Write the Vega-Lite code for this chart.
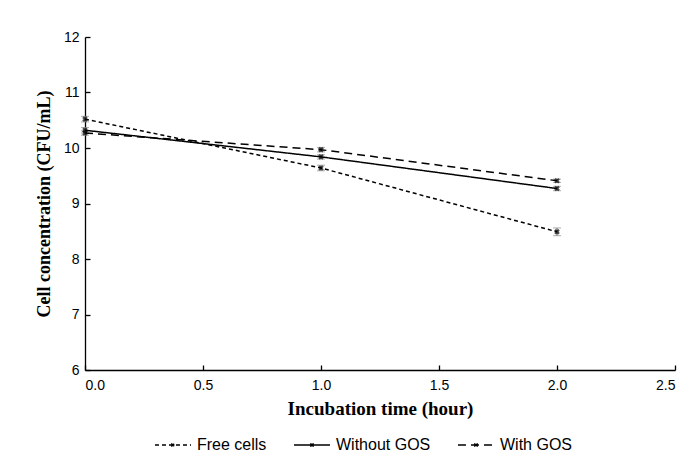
{
  "$schema": "https://vega.github.io/schema/vega-lite/v6.json",
  "width": 590,
  "height": 333,
  "padding": {"left": 35, "top": 30, "right": 5, "bottom": 5},
  "background": "white",
  "config": {
    "view": {"stroke": null},
    "axis": {
      "domainColor": "black",
      "tickColor": "black",
      "labelColor": "black",
      "titleColor": "black",
      "labelFont": "Liberation Sans",
      "labelFontSize": 14,
      "titleFont": "Liberation Serif",
      "titleFontSize": 18,
      "titleFontWeight": "bold",
      "grid": false,
      "domainWidth": 1.3,
      "tickWidth": 1.3
    },
    "legend": {
      "labelFont": "Liberation Sans",
      "labelFontSize": 16,
      "labelColor": "black"
    }
  },
  "data": {
    "values": [
      {"series": "Free cells", "time": 0, "value": 10.52, "err": 0.05},
      {"series": "Free cells", "time": 1, "value": 9.64, "err": 0.05},
      {"series": "Free cells", "time": 2, "value": 8.49, "err": 0.07},
      {"series": "Without GOS", "time": 0, "value": 10.32, "err": 0.05},
      {"series": "Without GOS", "time": 1, "value": 9.84, "err": 0.04},
      {"series": "Without GOS", "time": 2, "value": 9.27, "err": 0.04},
      {"series": "With GOS", "time": 0, "value": 10.27, "err": 0.04},
      {"series": "With GOS", "time": 1, "value": 9.97, "err": 0.04},
      {"series": "With GOS", "time": 2, "value": 9.41, "err": 0.03}
    ]
  },
  "layer": [
    {
      "mark": {"type": "errorbar", "ticks": {"size": 8, "color": "#888888", "strokeWidth": 1.5}, "rule": {"color": "#888888", "strokeWidth": 1.5}},
      "encoding": {
        "x": {"field": "time", "type": "quantitative", "title": "Incubation time (hour)"},
        "y": {"field": "value", "type": "quantitative", "title": "Cell concentration (CFU/mL)"},
        "yError": {"field": "err"},
        "detail": {"field": "series"}
      }
    },
    {
      "mark": {"type": "line", "color": "black", "strokeWidth": 1.5},
      "encoding": {
        "x": {
          "field": "time", "type": "quantitative",
          "scale": {"domain": [0, 2.5], "nice": false},
          "axis": {"values": [0, 0.5, 1, 1.5, 2, 2.5], "format": ".1f", "tickSize": -5, "labelPadding": 13, "titlePadding": 7, "titleFontSize": 19},
          "title": "Incubation time (hour)"
        },
        "y": {
          "field": "value", "type": "quantitative",
          "scale": {"domain": [6, 12], "nice": false, "zero": false},
          "axis": {"values": [6, 7, 8, 9, 10, 11, 12], "format": "d", "tickSize": -5, "labelPadding": 11, "titlePadding": 10},
          "title": "Cell concentration (CFU/mL)"
        },
        "strokeDash": {
          "field": "series", "type": "nominal",
          "scale": {"domain": ["Free cells", "Without GOS", "With GOS"], "range": [[4, 3], [1, 0], [8, 5]]},
          "legend": {
            "orient": "none", "legendX": 69, "legendY": 389,
            "direction": "horizontal", "title": null,
            "symbolType": "M-1,0L1,0M-0.09,-0.09L0.09,0.09M-0.09,0.09L0.09,-0.09",
            "symbolStrokeColor": "black", "symbolSize": 1300, "symbolStrokeWidth": 1.4,
            "columnPadding": 24, "labelOffset": 5
          }
        }
      }
    },
    {
      "mark": {"type": "point", "shape": "cross", "angle": 45, "filled": true, "color": "black", "size": 32},
      "encoding": {
        "x": {"field": "time", "type": "quantitative", "title": "Incubation time (hour)"},
        "y": {"field": "value", "type": "quantitative", "title": "Cell concentration (CFU/mL)"}
      }
    }
  ]
}
